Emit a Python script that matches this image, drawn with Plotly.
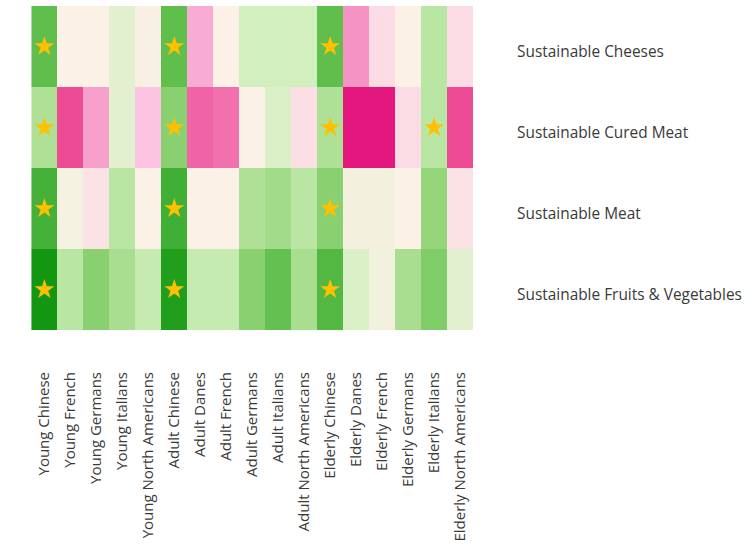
import plotly.graph_objects as go

# Consumer groups (columns) and product categories (rows, top to bottom)
groups = [
    "Young Chinese", "Young French", "Young Germans", "Young Italians",
    "Young North Americans", "Adult Chinese", "Adult Danes", "Adult French",
    "Adult Germans", "Adult Italians", "Adult North Americans",
    "Elderly Chinese", "Elderly Danes", "Elderly French", "Elderly Germans",
    "Elderly Italians", "Elderly North Americans",
]
products = [
    "Sustainable Cheeses",
    "Sustainable Cured Meat",
    "Sustainable Meat",
    "Sustainable Fruits & Vegetables",
]

# Preference scores per product (negative = pink, positive = green)
cheeses = [0.70, 0.00, 0.00, 0.15, 0.02, 0.70, -0.35, 0.00, 0.25, 0.25, 0.25,
           0.70, -0.45, -0.12, 0.00, 0.35, -0.12]
cured_meat = [0.40, -0.75, -0.40, 0.15, -0.25, 0.55, -0.65, -0.60, 0.00, 0.20,
              -0.10, 0.40, -0.95, -0.95, -0.12, 0.35, -0.75]
meat = [0.80, 0.04, -0.08, 0.35, 0.00, 0.82, 0.00, 0.00, 0.40, 0.45, 0.35,
        0.55, 0.05, 0.05, 0.00, 0.50, -0.08]
fruits_veg = [1.00, 0.35, 0.55, 0.42, 0.30, 0.95, 0.30, 0.30, 0.55, 0.68, 0.42,
              0.75, 0.20, 0.06, 0.42, 0.58, 0.15]

# Significant cells marked with a star: (group, product)
starred = [
    ("Young Chinese", "Sustainable Cheeses"),
    ("Adult Chinese", "Sustainable Cheeses"),
    ("Elderly Chinese", "Sustainable Cheeses"),
    ("Young Chinese", "Sustainable Cured Meat"),
    ("Adult Chinese", "Sustainable Cured Meat"),
    ("Elderly Chinese", "Sustainable Cured Meat"),
    ("Elderly Italians", "Sustainable Cured Meat"),
    ("Young Chinese", "Sustainable Meat"),
    ("Adult Chinese", "Sustainable Meat"),
    ("Elderly Chinese", "Sustainable Meat"),
    ("Young Chinese", "Sustainable Fruits & Vegetables"),
    ("Adult Chinese", "Sustainable Fruits & Vegetables"),
    ("Elderly Chinese", "Sustainable Fruits & Vegetables"),
]

z = [cheeses, cured_meat, meat, fruits_veg]

colorscale = [
    [0.000, "#e20a78"],
    [0.125, "#ee4b96"],
    [0.250, "#f488bd"],
    [0.375, "#fbc3e1"],
    [0.500, "#fbf1e6"],
    [0.625, "#d2f0bf"],
    [0.750, "#96d67b"],
    [0.875, "#52b842"],
    [1.000, "#139713"],
]

font_family = "Open Sans, Lato, sans-serif"
text_color = "#3a3a3a"
row_label_size = 15.4
col_label_size = 15

fig = go.Figure()
fig.add_trace(go.Heatmap(
    z=z, x=groups, y=products,
    zmin=-1, zmax=1,
    colorscale=colorscale,
    showscale=False,
    hoverinfo="skip",
))
fig.add_trace(go.Scatter(
    x=[g for g, _ in starred],
    y=[p for _, p in starred],
    mode="markers",
    marker=dict(symbol="star", size=15, color="#ffc000",
                line=dict(width=0)),
    showlegend=False,
    hoverinfo="skip",
))

fig.update_layout(
    width=755, height=547,
    margin=dict(l=12, r=282, t=6, b=217),
    paper_bgcolor="white",
    plot_bgcolor="white",
    font=dict(family=font_family, size=row_label_size, color=text_color),
    showlegend=False,
)
fig.update_xaxes(
    type="category",
    categoryorder="array", categoryarray=groups,
    tickangle=-90,
    ticks="outside", ticklen=35, tickcolor="rgba(0,0,0,0)",
    automargin=False,
    showgrid=False, zeroline=False, showline=False,
    tickfont=dict(family=font_family, size=col_label_size, color=text_color),
)
fig.update_yaxes(
    type="category",
    categoryorder="array", categoryarray=products[::-1],
    side="right",
    ticks="outside", ticklen=40, tickcolor="rgba(0,0,0,0)",
    ticklabelshift=5,
    automargin=False,
    showgrid=False, zeroline=False, showline=False,
    tickfont=dict(family=font_family, size=row_label_size, color=text_color),
)

fig.write_html("out.html")
